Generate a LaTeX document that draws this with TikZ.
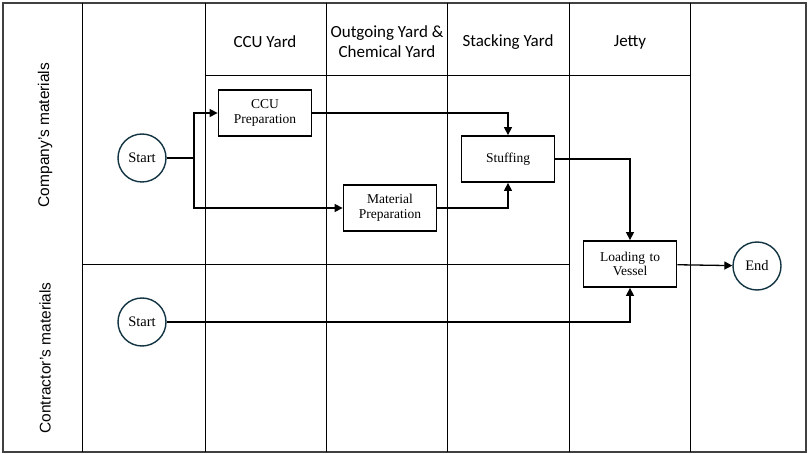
\documentclass[tikz,border=0pt]{standalone}
\usepackage{fontspec}
\setmainfont{Liberation Serif}
\setsansfont{Liberation Sans}
\newfontfamily\headfont{Carlito}
\usetikzlibrary{arrows.meta,positioning}
\definecolor{terminalteal}{RGB}{18,52,66}

\begin{document}
\begin{tikzpicture}[x=1pt, y=-1pt,
    lane/.style={line width=0.8pt},
    box/.style={rectangle, draw, line width=1.8pt, text width=88pt, align=center, minimum width=93pt, minimum height=46pt, inner sep=2pt, font=\fontsize{13.5}{14.5}\selectfont},
    terminal/.style={circle, draw=terminalteal, line width=1.4pt, minimum size=48pt, inner sep=0pt, font=\fontsize{14.5}{15}\selectfont},
    header/.style={align=center, font=\headfont\fontsize{17}{20}\selectfont},
    lanetitle/.style={rotate=90, font=\sffamily\fontsize{15.5}{17}\selectfont},
    arrow/.style={-{Triangle[length=8pt,width=8pt]}, line width=1.3pt}
]
    \useasboundingbox (0,0) rectangle (809,454);

    % swimlane grid
    \draw[line width=1.6pt, black!75] (3,3) rectangle (806,452);
    \draw[lane] (82,3) -- (82,452);
    \foreach \x in {205,326,447,569,690}
        \draw[lane] (\x,3) -- (\x,452);
    \draw[lane] (205,75) -- (690,75);
    \draw[lane] (82,264) -- (569,264);

    % headers
    \node[header] (hccu) at (265,42) {CCU Yard};
    \node[header] (hout) at (387,42) {Outgoing Yard \&\\Chemical Yard};
    \node[header] (hstack) at (508,42) {Stacking Yard};
    \node[header] (hjetty) at (630,42) {Jetty};
    \node[lanetitle] (lcomp) at (45,135) {Company's materials};
    \node[lanetitle] (lcont) at (45,358) {Contractor's materials};

    % process nodes
    \node[terminal] (start1) at (142,158) {Start};
    \node[terminal] (start2) at (142,322) {Start};
    \node[box, fill=white] (ccu) at (265,113) {CCU\\Preparation};
    \node[box, fill=white] (matprep) at (390,208) {Material\\Preparation};
    \node[box, fill=white] (stuff) at (508,159) {Stuffing};
    \node[box, fill=white] (load) at (630,264) {Loading to\\Vessel};
    \node[terminal] (end) at (757,266) {End};

    \coordinate (split) at (194,158);
    \draw[line width=1.3pt] (start1) -- (split);
    \draw[arrow] (split) |- (ccu);
    \draw[arrow] (split) |- (matprep);
    \draw[arrow] (ccu) -| (stuff);
    \draw[arrow] (matprep) -| (stuff);
    \draw[arrow] (stuff) -| (load);
    \draw[arrow] (start2) -| (load);
    \draw[arrow] (load) -- (end);
\end{tikzpicture}
\end{document}
